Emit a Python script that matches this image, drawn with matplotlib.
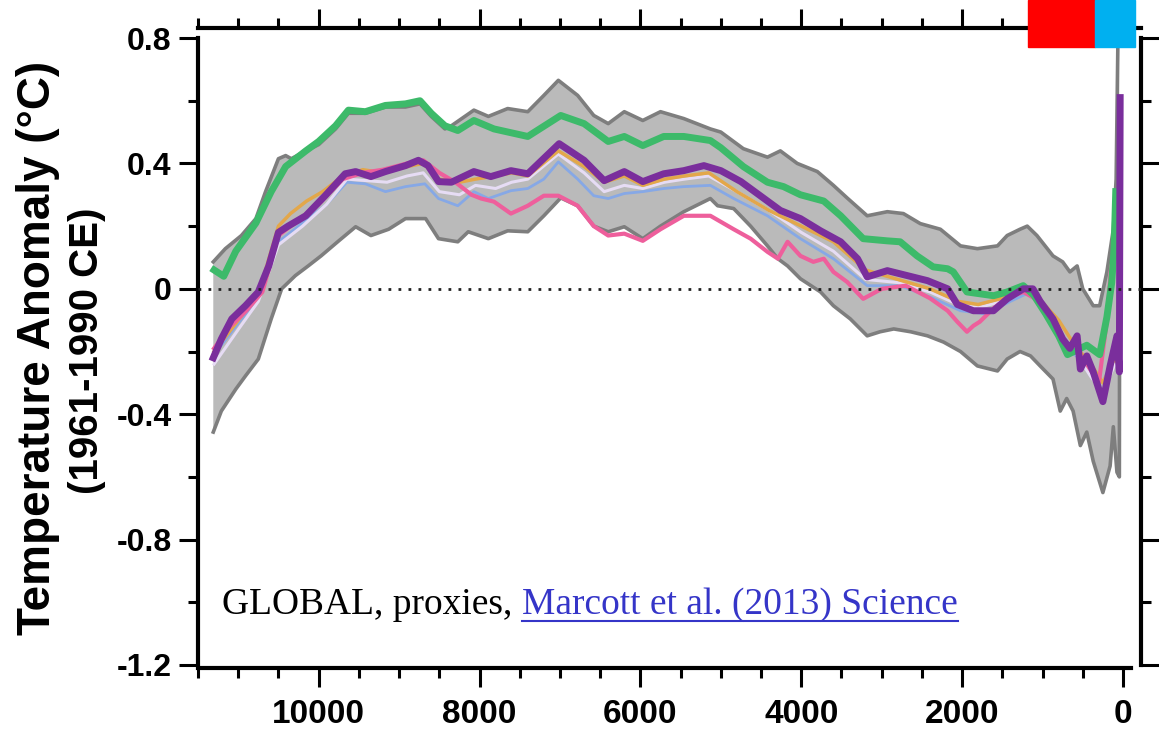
import numpy as np
import matplotlib
matplotlib.use("Agg")
import matplotlib.pyplot as plt
from matplotlib.patches import Rectangle
from matplotlib.lines import Line2D
from matplotlib.ticker import FixedLocator, FuncFormatter

# years before present, temperature anomaly (deg C)
green_yr = [11300, 11180, 11030, 10780, 10590, 10410, 10160, 10000, 9790, 9630,
            9420, 9170, 8920, 8740, 8600, 8430, 8270, 8070, 7820, 7400,
            6990, 6700, 6400, 6200, 5970, 5710, 5460, 5130, 5000, 4720,
            4420, 4220, 4010, 3720, 3510, 3230, 2930, 2770, 2560, 2360,
            2180, 2110, 1940, 1610, 1440, 1240, 1110, 960, 800, 690,
            450, 290, 200, 140, 110, 90]
green_val = [0.06, 0.04, 0.12, 0.21, 0.31, 0.39, 0.44, 0.47, 0.52, 0.57,
             0.565, 0.585, 0.59, 0.60, 0.56, 0.52, 0.505, 0.537, 0.51, 0.486,
             0.553, 0.527, 0.47, 0.486, 0.457, 0.486, 0.486, 0.473, 0.45, 0.39,
             0.34, 0.326, 0.30, 0.28, 0.233, 0.16, 0.153, 0.15, 0.105, 0.07,
             0.064, 0.054, -0.01, -0.022, -0.01, 0.01, -0.02, -0.08, -0.15, -0.21,
             -0.18, -0.21, -0.09, 0.02, 0.13, 0.31]

purple_yr = [11310, 11210, 11080, 10910, 10750, 10620, 10500, 10380, 10160, 9920,
             9670, 9540, 9350, 9170, 8920, 8760, 8640, 8510, 8350, 8070,
             7860, 7610, 7400, 7010, 6700, 6450, 6200, 5970, 5710, 5460,
             5210, 5000, 4750, 4510, 4260, 4010, 3760, 3510, 3300, 3180,
             2930, 2680, 2430, 2180, 2060, 1860, 1610, 1440, 1240, 1120,
             1030, 870, 750, 660, 570, 530, 450, 370, 250, 160,
             75, 45, 35]
purple_val = [-0.22, -0.16, -0.096, -0.054, -0.01, 0.073, 0.18, 0.20, 0.233, 0.297,
              0.367, 0.374, 0.358, 0.374, 0.393, 0.41, 0.393, 0.342, 0.34, 0.374,
              0.358, 0.377, 0.367, 0.463, 0.41, 0.345, 0.374, 0.342, 0.367, 0.377,
              0.393, 0.377, 0.342, 0.297, 0.25, 0.224, 0.185, 0.15, 0.096, 0.038,
              0.058, 0.042, 0.026, 0.0, -0.05, -0.07, -0.07, -0.032, 0.0, 0.0,
              -0.04, -0.096, -0.16, -0.19, -0.15, -0.256, -0.214, -0.265, -0.36, -0.246,
              -0.15, -0.265, 0.61]

upper_yr = [11310, 11160, 10960, 10780, 10660, 10500, 10410, 10340, 10160, 10000,
            9790, 9630, 9420, 9170, 8920, 8740, 8600, 8430, 8350, 8070,
            7890, 7650, 7400, 7200, 7020, 6780, 6580, 6400, 6200, 5970,
            5750, 5460, 5130, 5000, 4720, 4420, 4260, 4050, 3800, 3600,
            3430, 3180, 2930, 2730, 2520, 2270, 2020, 1810, 1560, 1440,
            1280, 1190, 1070, 870, 750, 660, 570, 500, 370, 290,
            200, 120, 85, 55]
upper_val = [0.086, 0.128, 0.17, 0.224, 0.31, 0.415, 0.425, 0.415, 0.44, 0.46,
             0.51, 0.56, 0.56, 0.58, 0.58, 0.59, 0.55, 0.51, 0.52, 0.57,
             0.55, 0.575, 0.565, 0.617, 0.665, 0.617, 0.553, 0.527, 0.565, 0.537,
             0.565, 0.543, 0.51, 0.50, 0.447, 0.42, 0.44, 0.40, 0.374, 0.33,
             0.29, 0.233, 0.246, 0.24, 0.208, 0.19, 0.137, 0.128, 0.137, 0.17,
             0.19, 0.20, 0.17, 0.105, 0.086, 0.054, 0.073, 0.0, -0.054, -0.054,
             0.054, 0.19, 0.35, 0.95]

lower_yr = [11310, 11210, 11030, 10910, 10750, 10590, 10460, 10290, 10130, 9970,
            9750, 9540, 9350, 9130, 8920, 8670, 8510, 8270, 8140, 7890,
            7650, 7400, 7200, 6990, 6780, 6580, 6400, 6200, 5970, 5750,
            5460, 5130, 5040, 4840, 4630, 4420, 4290, 4170, 4010, 3760,
            3600, 3390, 3180, 3020, 2850, 2640, 2430, 2230, 2020, 1810,
            1560, 1440, 1280, 1150, 1030, 870, 780, 700, 620, 530,
            450, 370, 250, 160, 120, 75, 45, 40]
lower_val = [-0.457, -0.39, -0.32, -0.278, -0.224, -0.096, 0.0, 0.042, 0.073, 0.105,
             0.153, 0.198, 0.17, 0.19, 0.224, 0.224, 0.16, 0.15, 0.182, 0.16,
             0.185, 0.182, 0.233, 0.29, 0.265, 0.2, 0.182, 0.198, 0.16, 0.2,
             0.246, 0.288, 0.265, 0.256, 0.2, 0.137, 0.096, 0.073, 0.032, -0.01,
             -0.054, -0.096, -0.15, -0.137, -0.128, -0.137, -0.15, -0.17, -0.2, -0.246,
             -0.262, -0.224, -0.2, -0.214, -0.246, -0.288, -0.39, -0.35, -0.39, -0.5,
             -0.457, -0.55, -0.65, -0.565, -0.44, -0.585, -0.6, 0.3]

pink_yr = [11300, 11100, 10900, 10700, 10500, 10300, 10000, 9700, 9450, 9200,
           8900, 8700, 8500, 8300, 8100, 7980, 7820, 7610, 7400, 7200,
           7020, 6780, 6580, 6400, 6200, 5970, 5750, 5460, 5130, 4840,
           4630, 4420, 4290, 4170, 4010, 3850, 3720, 3600, 3430, 3230,
           3000, 2700, 2400, 2180, 2060, 1940, 1860, 1780, 1600, 1440,
           1240, 1100, 900, 700, 500, 300, 200, 150, 60, 40]
pink_val = [-0.19, -0.12, -0.07, -0.01, 0.17, 0.21, 0.27, 0.35, 0.37, 0.38,
            0.40, 0.41, 0.37, 0.34, 0.30, 0.288, 0.278, 0.24, 0.265, 0.297,
            0.297, 0.265, 0.2, 0.17, 0.176, 0.153, 0.19, 0.233, 0.233, 0.19,
            0.16, 0.118, 0.096, 0.15, 0.105, 0.086, 0.096, 0.054, 0.022, -0.032,
            0.0, 0.01, -0.03, -0.07, -0.105, -0.137, -0.118, -0.105, -0.06, -0.03,
            -0.01, -0.03, -0.1, -0.18, -0.22, -0.3, -0.1, 0.06, 0.2, 0.3]

blue_yr = [11300, 11000, 10750, 10500, 10200, 9900, 9650, 9420, 9170, 8920,
           8680, 8510, 8270, 8070, 7890, 7610, 7400, 7200, 7020, 6780,
           6580, 6400, 6200, 5970, 5710, 5460, 5130, 4840, 4420, 4010,
           3600, 3180, 2770, 2360, 2020, 1700, 1400, 1150, 900, 650,
           400, 250, 100, 40]
blue_val = [-0.21, -0.11, -0.03, 0.15, 0.21, 0.27, 0.34, 0.335, 0.31, 0.326,
            0.335, 0.288, 0.265, 0.31, 0.288, 0.313, 0.32, 0.35, 0.405, 0.35,
            0.297, 0.288, 0.304, 0.31, 0.32, 0.326, 0.33, 0.288, 0.233, 0.16,
            0.096, 0.01, 0.01, -0.03, -0.07, -0.08, -0.04, -0.01, -0.1, -0.2,
            -0.25, -0.3, -0.2, -0.25]

lav_yr = [11300, 11000, 10750, 10500, 10200, 9900, 9650, 9400, 9150, 8900,
          8700, 8500, 8250, 8050, 7800, 7600, 7400, 7020, 6700, 6450,
          6200, 5970, 5700, 5450, 5150, 4800, 4400, 4000, 3600, 3200,
          2800, 2400, 2050, 1800, 1500, 1240, 1050, 800, 600, 400,
          250, 100, 40]
lav_val = [-0.24, -0.13, -0.04, 0.14, 0.2, 0.27, 0.35, 0.345, 0.34, 0.36,
           0.37, 0.31, 0.3, 0.33, 0.32, 0.34, 0.35, 0.43, 0.37, 0.31,
           0.33, 0.32, 0.34, 0.35, 0.36, 0.31, 0.25, 0.18, 0.12, 0.03,
           0.02, -0.01, -0.05, -0.06, -0.04, 0.0, -0.04, -0.14, -0.2, -0.28,
           -0.33, -0.24, -0.25]

orange_yr = [11300, 11000, 10750, 10500, 10350, 10150, 9950, 9700, 9450, 9200,
             8900, 8700, 8500, 8250, 8050, 7800, 7600, 7400, 7020, 6700,
             6450, 6200, 5970, 5700, 5450, 5150, 4800, 4400, 4000, 3600,
             3200, 2800, 2400, 2050, 1800, 1500, 1240, 1050, 800, 600,
             400, 250, 100, 40]
orange_val = [-0.2, -0.1, -0.02, 0.2, 0.24, 0.28, 0.31, 0.36, 0.38, 0.37,
              0.39, 0.4, 0.35, 0.34, 0.35, 0.36, 0.37, 0.36, 0.44, 0.39,
              0.34, 0.36, 0.33, 0.35, 0.36, 0.37, 0.31, 0.25, 0.2, 0.15,
              0.06, 0.03, 0.0, -0.04, -0.05, -0.03, 0.0, -0.03, -0.1, -0.18,
              -0.24, -0.3, -0.22, -0.25]

x_major = [10000, 8000, 6000, 4000, 2000, 0]
y_major = [-1.2, -0.8, -0.4, 0.0, 0.4, 0.8]

W, H = 1159, 734
plt.rcParams['font.family'] = ['Liberation Sans', 'DejaVu Sans']

fig = plt.figure(figsize=(W / 100, H / 100), dpi=100)
ax = fig.add_axes([198 / W, (H - 668) / H, (1141 - 198) / W, (668 - 28) / H])
ax.set_xlim(11500, -224)
ax.set_ylim(-1.2096, 0.832)

# uncertainty band
band_x = np.concatenate([upper_yr, lower_yr[::-1]])
band_y = np.concatenate([upper_val, lower_val[::-1]])
ax.fill(band_x, band_y, color='#bababa', lw=0, zorder=1)
ax.plot(upper_yr, upper_val, color='#7e7e7e', lw=2.6, zorder=2, solid_joinstyle='round')
ax.plot(lower_yr, lower_val, color='#7e7e7e', lw=2.6, zorder=2, solid_joinstyle='round')

ax.plot(blue_yr, blue_val, color='#86a8e6', lw=2.0, zorder=3)
ax.plot(lav_yr, lav_val, color='#e6dcf4', lw=2.2, zorder=3)
ax.plot(orange_yr, orange_val, color='#e3a74a', lw=2.5, zorder=3)
ax.plot(pink_yr, pink_val, color='#ee5f9c', lw=3.0, zorder=4)
ax.plot(green_yr, green_val, color='#3dba6a', lw=5.0, zorder=5)
ax.plot(purple_yr, purple_val, color='#7a2e9c', lw=5.0, zorder=6)

ax.axhline(0, color='#222222', lw=2.0, dashes=(1, 2.6), zorder=7)

# Igor-style detached axes
for side in ['left', 'right', 'top', 'bottom']:
    ax.spines[side].set_linewidth(3)
ax.spines['left'].set_bounds(-1.2, 0.8)
ax.spines['right'].set_bounds(-1.2, 0.8)
ax.spines['bottom'].set_bounds(11500, -100)
ax.spines['top'].set_bounds(11500, -224)

ax.xaxis.set_major_locator(FixedLocator(x_major))
ax.xaxis.set_minor_locator(FixedLocator(np.arange(11500, -1, -500)))
ax.yaxis.set_major_locator(FixedLocator(y_major))
ax.yaxis.set_minor_locator(FixedLocator(np.arange(-1.0, 0.7, 0.4)))
ax.xaxis.set_major_formatter(FuncFormatter(lambda v, p: '%d' % v))
ax.yaxis.set_major_formatter(FuncFormatter(lambda v, p: '%g' % round(v, 1) if abs(v) > 1e-9 else '0'))

ax.tick_params(which='both', direction='out', top=True, right=True, width=2.2)
ax.tick_params(which='major', length=14)
ax.tick_params(which='minor', length=7)
ax.tick_params(axis='x', labelsize=24, pad=8)
ax.tick_params(axis='y', labelsize=23, pad=5)
for lab in ax.get_xticklabels() + ax.get_yticklabels():
    lab.set_fontweight('bold')

# y label, two lines
fig.text(38 / W, 1 - 348 / H, 'Temperature Anomaly (\u00b0C)', rotation=90,
         ha='center', va='center', fontsize=33, fontweight='bold')
fig.text(87 / W, 1 - 351 / H, '(1961-1990 CE)', rotation=90,
         ha='center', va='center', fontsize=29, fontweight='bold')

# caption
fig.text(222 / W, 1 - 614 / H, 'GLOBAL, proxies,', fontsize=27,
         family='Liberation Serif', va='baseline', color='black')
link = fig.text(522 / W, 1 - 614 / H, 'Marcott et al. (2013) Science', fontsize=27,
                family='Liberation Serif', va='baseline', color='#3535c8')

# colour blocks top right
fig.add_artist(Rectangle((1028 / W, 1 - 47 / H), 67 / W, 47 / H,
                         transform=fig.transFigure, color='#ff0000', zorder=10))
fig.add_artist(Rectangle((1095 / W, 1 - 47 / H), 40 / W, 47 / H,
                         transform=fig.transFigure, color='#00b0f0', zorder=10))

fig.canvas.draw()
bb = link.get_window_extent(fig.canvas.get_renderer())
uy = (H - 621) / H
fig.add_artist(Line2D([bb.x0 / W, bb.x1 / W], [uy, uy], transform=fig.transFigure,
                      color='#3535c8', lw=1.5))

fig.savefig('out.png', dpi=100)
